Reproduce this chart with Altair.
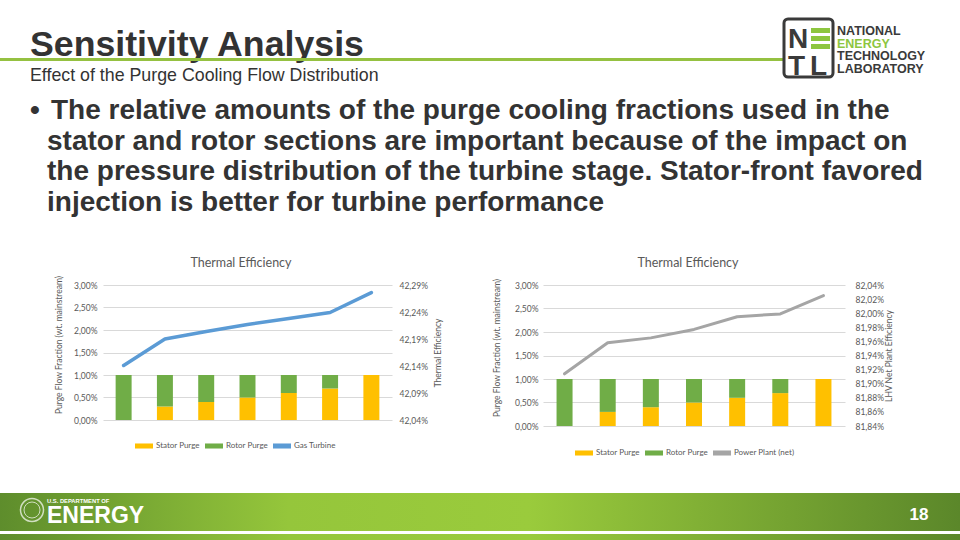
import altair as alt
import pandas as pd

# ---------------- data ----------------
cases = [1, 2, 3, 4, 5, 6, 7]
stator_purge = [0.0, 0.3, 0.4, 0.5, 0.6, 0.7, 1.0]   # % of mainstream
rotor_purge = [1.0, 0.7, 0.6, 0.5, 0.4, 0.3, 0.0]    # % of mainstream
gas_turbine_eff = [42.141, 42.190, 42.204, 42.217, 42.228, 42.239, 42.276]   # %
power_plant_eff = [81.914, 81.958, 81.965, 81.977, 81.995, 81.999, 82.025]   # %
flow_ticks = [0.0, 0.5, 1.0, 1.5, 2.0, 2.5, 3.0]
gt_ticks = [42.04, 42.09, 42.14, 42.19, 42.24, 42.29]
pp_ticks = [81.84, 81.86, 81.88, 81.90, 81.92, 81.94, 81.96, 81.98, 82.00, 82.02, 82.04]
bar_series = ["Stator Purge", "Rotor Purge"]
line_series = ["Gas Turbine", "Power Plant (net)"]
chart_title = "Thermal Efficiency"

slide_title = "Sensitivity Analysis"
slide_subtitle = "Effect of the Purge Cooling Flow Distribution"
bullet_lines = [
    "The relative amounts of the purge cooling fractions used in the",
    "stator and rotor sections are important because of the impact on",
    "the pressure distribution of the turbine stage. Stator-front favored",
    "injection is better for turbine performance",
]
netl_lines = ["NATIONAL", "ENERGY", "TECHNOLOGY", "LABORATORY"]
doe_small = "U.S. DEPARTMENT OF"
doe_big = "ENERGY"
page_number = "18"

YELLOW, GREEN, BLUE, GRAY = "#FFC000", "#70AD47", "#5B9BD5", "#A5A5A5"
TXT = "#595959"
DARK = "#333333"
LIME = "#8DC63F"

bar_rows = []
for c, s, r in zip(cases, stator_purge, rotor_purge):
    bar_rows.append({"case": c, "series": bar_series[0], "value": s / 100, "ord": 0})
    bar_rows.append({"case": c, "series": bar_series[1], "value": r / 100, "ord": 1})
bars_df = pd.DataFrame(bar_rows)
gt_df = pd.DataFrame({"case": cases, "series": line_series[0], "eff": [v / 100 for v in gas_turbine_eff]})
pp_df = pd.DataFrame({"case": cases, "series": line_series[1], "eff": [v / 100 for v in power_plant_eff]})

# ---------------- slide decorations (page coords -> panel coords) ----------------
P1 = (103, 285)   # page position of panel-1 plot origin
P2 = (543, 285)   # page position of panel-2 plot origin
ONE = pd.DataFrame({"k": [0]})


def txt(s, x, y, size, color=DARK, weight="normal", font="Liberation Sans", align="left", o=P1):
    return alt.Chart(ONE).mark_text(
        text=s, fontSize=size, font=font, fontWeight=weight, color=color,
        align=align, baseline="alphabetic"
    ).encode(x=alt.value(x - o[0]), y=alt.value(y - o[1]))


def box(x1, y1, x2, y2, o=P1, **kw):
    return alt.Chart(ONE).mark_rect(**kw).encode(
        x=alt.value(x1 - o[0]), x2=alt.value(x2 - o[0]), y=alt.value(y1 - o[1]), y2=alt.value(y2 - o[1])
    )


def ring(cx, cy, d, **kw):
    return alt.Chart(ONE).mark_point(shape="circle", size=d * d, filled=False, **kw).encode(
        x=alt.value(cx - P1[0]), y=alt.value(cy - P1[1])
    )


footer_grad = alt.LinearGradient(
    gradient="linear", x1=0, x2=1, y1=0, y2=0,
    stops=[alt.GradientStop(offset=0, color="#5E8D2C"),
           alt.GradientStop(offset=0.3, color="#95C63B"),
           alt.GradientStop(offset=0.55, color="#9ACB3C"),
           alt.GradientStop(offset=1, color="#5B872A")],
)

deco = [
    box(0, 0, 960, 540, fill="white", opacity=0),
    # header
    txt(slide_title, 30, 56, 35.7, weight="bold"),
    box(0, 58, 783, 61, fill="#95C141"),
    txt(slide_subtitle, 30, 81, 17.8),
    # NETL logo
    box(784, 19, 833, 77, fill="white", stroke="#3A3A3A", strokeWidth=3, cornerRadius=4),
    txt("N", 788, 48, 28, color="#3A3A3A", weight="bold"),
    box(811, 28, 830, 33, fill=LIME),
    box(811, 36, 830, 41, fill=LIME),
    box(811, 44, 830, 49, fill=LIME),
    txt("T", 788, 75, 28, color="#3A3A3A", weight="bold"),
    txt("L", 810, 75, 28, color="#3A3A3A", weight="bold"),
    txt(netl_lines[0], 837, 35, 12.5, color="#3A3A3A", weight="bold"),
    txt(netl_lines[1], 837, 47.5, 12.5, color=LIME, weight="bold"),
    txt(netl_lines[2], 837, 60, 12.5, color="#3A3A3A", weight="bold"),
    txt(netl_lines[3], 837, 72.5, 12.5, color="#3A3A3A", weight="bold"),
    # bullet
    txt("\u2022", 30, 119, 28, weight="bold"),
    txt(bullet_lines[0], 51, 119, 28, weight="bold"),
    txt(bullet_lines[1], 47, 149.5, 28, weight="bold"),
    txt(bullet_lines[2], 47, 180, 28, weight="bold"),
    txt(bullet_lines[3], 47, 210.5, 28, weight="bold"),
    # footer
    box(0, 493, 960, 531, fill=footer_grad),
    box(0, 534, 960, 540, fill=footer_grad),
    ring(32, 510, 23, color="white", strokeWidth=1.5),
    ring(32, 510, 16, color="white", strokeWidth=1),
    txt(doe_small, 47, 503, 5.8, color="white", weight="bold"),
    txt(doe_big, 47, 523, 23, color="white", weight="bold"),
    txt(page_number, 919, 520, 17, color="white", weight="bold", align="center"),
]


# ---------------- chart panels ----------------
def axis_common(**kw):
    base = dict(format=".2%", labelExpr="replace(datum.label, '.', ',')", domain=False, ticks=False,
                labelFont="Lato", labelFontSize=8.5, labelColor=TXT, titleFont="Lato",
                titleFontSize=8.5, titleFontWeight="normal", titleColor=TXT, titleAngle=270,
                titleAlign="center", titleBaseline="middle")
    base.update(kw)
    return alt.Axis(**base)


def panel(line_df, line_name, line_color, eff_ticks, right_title, width, height,
          pad_inner, pad_outer, ltx, rtx, lpad, rpad, legend_y, title_x, origin,
          extra=None, line_w=3.5):
    cscale = alt.Scale(domain=bar_series + [line_name], range=[YELLOW, GREEN, line_color])
    legend = alt.Legend(orient="none", legendX=32, legendY=legend_y, direction="horizontal",
                        title=None, labelFont="Lato", labelFontSize=8, labelColor=TXT,
                        symbolType="M-1,-0.28H1V0.28H-1Z", symbolSize=324, columnPadding=5,
                        labelOffset=3, symbolStrokeWidth=0)
    x = alt.X("case:O", axis=None, scale=alt.Scale(paddingInner=pad_inner, paddingOuter=pad_outer))
    bars = alt.Chart(bars_df).mark_bar().encode(
        x=x,
        y=alt.Y("value:Q", stack="zero",
                scale=alt.Scale(domain=[0, flow_ticks[-1] / 100], nice=False),
                axis=axis_common(values=[t / 100 for t in flow_ticks], grid=True, gridColor="#D9D9D9",
                                 labelPadding=lpad, title="Purge Flow Fraction (wt. mainstream)",
                                 titleX=ltx, titleY=height / 2 - 8)),
        color=alt.Color("series:N", scale=cscale, legend=legend),
        order=alt.Order("ord:Q"),
    )
    line = alt.Chart(line_df).mark_line(strokeWidth=line_w, strokeCap="round", strokeJoin="round").encode(
        x=x,
        y=alt.Y("eff:Q",
                scale=alt.Scale(domain=[eff_ticks[0] / 100, eff_ticks[-1] / 100], nice=False, zero=False),
                axis=axis_common(orient="right", values=[t / 100 for t in eff_ticks], grid=False,
                                 labelPadding=rpad, title=right_title, titleX=rtx, titleY=height / 2)),
        color=alt.Color("series:N", scale=cscale, legend=legend),
    )
    title = txt(chart_title, title_x, 267, 12.5, color=TXT, font="Lato", align="center", o=origin)
    layers = (extra or []) + [title, bars, line]
    return alt.layer(*layers).resolve_scale(y="independent").properties(width=width, height=height)


p1 = panel(gt_df, line_series[0], BLUE, gt_ticks, "Thermal Efficiency", 289, 135,
           0.613, 0.306, -45, 45, 6, 7, 152, 241, P1, extra=deco, line_w=3.5)
p2 = panel(pp_df, line_series[1], GRAY, pp_ticks, "LHV Net Plant Efficiency", 302, 141,
           0.629, 0.314, -47, 43, 5, 10, 159, 688, P2, line_w=3)

chart = alt.hconcat(p1, p2, spacing=151, bounds="flush").resolve_scale(
    color="independent", x="independent", y="independent"
).properties(padding=0).configure_view(stroke=None)

chart.save("out.html", embed_options={"renderer": "svg", "actions": False})
